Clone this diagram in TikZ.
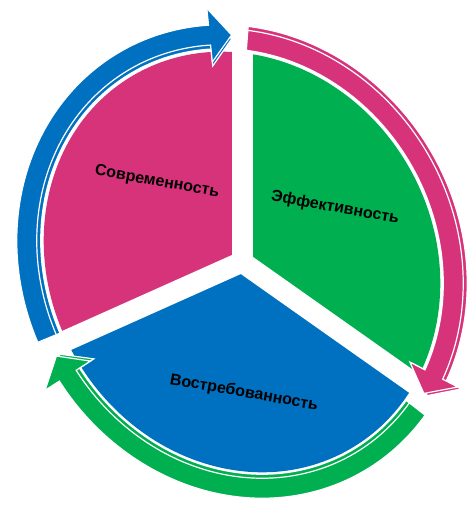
\documentclass[tikz,border=0pt]{standalone}
\usepackage{fontspec}
\setmainfont{Liberation Sans}

\definecolor{segpink}{RGB}{214,51,122}
\definecolor{seggreen}{RGB}{0,176,80}
\definecolor{segblue}{RGB}{0,112,192}

% ring arrow: colour, tail, head back, tip, ring offset (local ellipse angles)
\newcommand\ringarrow[5]{%
  \filldraw[#1, arrowedge]
    ({(216+#5+10)*cos(#2)},{(192+#5+10)*sin(#2)})
    arc[start angle=#2, end angle=#3, x radius=216+#5+10, y radius=192+#5+10]
    -- ({(216+#5+27)*cos(#3)},{(192+#5+27)*sin(#3)})
    -- ({(216+#5)*cos(#4)},{(192+#5)*sin(#4)})
    -- ({(216+#5-27)*cos(#3)},{(192+#5-27)*sin(#3)})
    -- ({(216+#5-10)*cos(#3)},{(192+#5-10)*sin(#3)})
    arc[start angle=#3, end angle=#2, x radius=216+#5-10, y radius=192+#5-10]
    -- cycle;}

\tikzset{
  gapline/.style={white, line width=21pt, line cap=round},
  arrowedge/.style={draw=white, line width=1.2pt, line join=miter},
  segtext/.style={font=\bfseries\fontsize{16}{18}\selectfont, rotate=-10, inner sep=0pt}
}

\begin{document}
\begin{tikzpicture}[x=1pt, y=-1pt]
  \useasboundingbox[fill=white] (0,0) rectangle (466,505);
  \coordinate (J) at (242,262);

  % pie segments
  \begin{scope}
    \clip[shift={(J)}, rotate=-60] (0,0) ellipse[x radius=216, y radius=192];
    \fill[segpink] (J) -- +(155.9:400) -- +(212:400) -- +(270:400) -- cycle;
    \fill[seggreen] (J) -- +(270:400) -- +(332:400) -- +(35.2:400) -- cycle;
    \fill[segblue] (J) -- +(35.2:400) -- +(95:400) -- +(155.9:400) -- cycle;
  \end{scope}
  \draw[gapline] (J) -- +(270:240);
  \draw[gapline] (J) -- +(155.9:240);
  \draw[gapline] (J) -- +(35.2:240);

  % arrows round the pie
  \begin{scope}[shift={(J)}, rotate=-60]
    \ringarrow{segblue}{97.7}{204.1}{210}{13}
    \ringarrow{segblue}{97.7}{204.1}{210}{17}
    \ringarrow{segpink}{214.2}{327.6}{333.4}{17}
    \ringarrow{segpink}{214.2}{327.6}{333.4}{13}
    \ringarrow{seggreen}{337.9}{447.2}{452.8}{12}
    \ringarrow{seggreen}{337.9}{447.2}{452.8}{16}
  \end{scope}

  \node[segtext] (modern) at (157,182) {Современность};
  \node[segtext] (effect) at (335,208) {Эффективность};
  \node[segtext] (demand) at (244,393) {Востребованность};
\end{tikzpicture}
\end{document}
